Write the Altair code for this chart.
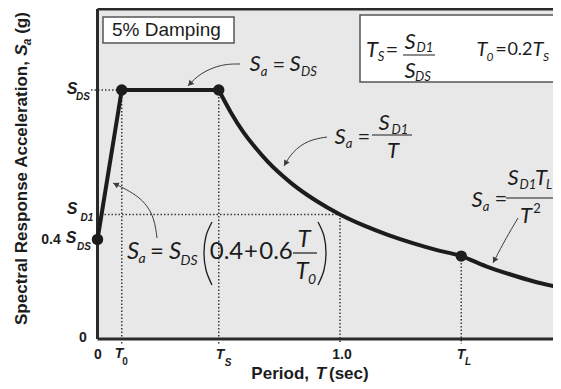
import math
import altair as alt
import pandas as pd

# ---------------- values ----------------
SDS, SD1 = 1.0, 0.5          # spectral accelerations (relative units)
T0, TS, TL = 0.1, 0.5, 1.5   # characteristic periods (sec)
SA_TL = 0.333                # Sa at T = TL

# straight part of the spectrum (0 -> T0 -> TS)
period_flat = [0.0, 0.10, 0.50]
sa_flat = [0.40, 1.00, 1.00]
# descending part (TS -> end)
period_fall = [0.50, 0.55, 0.60, 0.65, 0.70, 0.80, 0.90, 1.00, 1.10,
               1.20, 1.30, 1.40, 1.50, 1.60, 1.70, 1.80, 1.90]
sa_fall = [1.00, 0.910, 0.833, 0.770, 0.714, 0.625, 0.556, 0.500, 0.455,
           0.417, 0.385, 0.357, 0.333, 0.293, 0.260, 0.231, 0.208]

key_t = [0.0, T0, TS, TL]
key_sa = [0.4 * SDS, SDS, SDS, SA_TL]

# ---------------- layout ----------------
W, H = 455.5, 330
XMAX, YMAX = 1.8784, 1.3253
PX0, PXU = 97.5, 242.5      # page x of T=0, pixels per second
PY0, PYU = 339.0, 249.0     # page y of Sa=0, pixels per unit


def tx(px):
    return (px - PX0) / PXU


def ty(py):
    return (PY0 - py) / PYU


INK = "#1c1c1c"
BG = "#e8e8e8"
MATH = "Lato"
SANS = "Liberation Sans"

xs = alt.Scale(domain=[0, XMAX], nice=False, zero=False)
ys = alt.Scale(domain=[0, YMAX], nice=False, zero=False)


def ex(field):
    return alt.X(field, type="quantitative", scale=xs, axis=None)


def ey(field):
    return alt.Y(field, type="quantitative", scale=ys, axis=None)


def label(items, size, style="normal", weight="normal", font=MATH,
          align="center", angle=0):
    df = pd.DataFrame({"x": [tx(a) for a, _, _ in items],
                       "y": [ty(b) for _, b, _ in items],
                       "t": [str(c) for _, _, c in items]})
    mk = dict(font=font, fontSize=size, fontStyle=style, fontWeight=weight,
              align=align, baseline="middle", color=INK)
    if angle:
        mk["angle"] = angle
    return alt.Chart(df).mark_text(**mk).encode(x=ex("x"), y=ey("y"), text="t:N")


def paths(curves, width=1.0, color="#333333", interp="basis"):
    rows = []
    for g, pts in enumerate(curves):
        for i, (a, b) in enumerate(pts):
            rows.append({"x": tx(a), "y": ty(b), "i": i, "g": g})
    return alt.Chart(pd.DataFrame(rows)).mark_line(
        strokeWidth=width, color=color, interpolate=interp
    ).encode(x=ex("x"), y=ey("y"), order="i:Q", detail="g:N")


def bars(items, width=1.2):
    df = pd.DataFrame({"x": [tx(a) for a, _, _ in items],
                       "x2": [tx(b) for _, b, _ in items],
                       "y": [ty(c) for _, _, c in items]})
    return alt.Chart(df).mark_rule(color=INK, strokeWidth=width).encode(
        x=ex("x"), x2="x2", y=ey("y"))


def boxes(items, fill, stroke=None, sw=1.5):
    df = pd.DataFrame({"x": [tx(a) for a, _, _, _ in items],
                       "x2": [tx(b) for _, b, _, _ in items],
                       "y": [ty(c) for _, _, c, _ in items],
                       "y2": [ty(d) for _, _, _, d in items]})
    kw = dict(fill=fill)
    if stroke:
        kw.update(stroke=stroke, strokeWidth=sw)
    return alt.Chart(df).mark_rect(**kw).encode(x=ex("x"), x2="x2", y=ey("y"), y2="y2")


# ---------------- plot frame & guides ----------------
frame_df = pd.DataFrame({"x": [0.0, 0.0, 0.0], "x2": [0.0, XMAX + 0.05, XMAX + 0.05],
                         "y": [0.0, YMAX, 0.0], "y2": [YMAX, YMAX, 0.0]})
frame = alt.Chart(frame_df).mark_rule(color="#2a2a2a", strokeWidth=3).encode(
    x=ex("x"), x2="x2", y=ey("y"), y2="y2")

below = ty(344)
guide_df = pd.DataFrame({
    "x": [tx(91), 0.0, T0, TS, 1.0, TL],
    "x2": [T0, 1.0, T0, TS, 1.0, TL],
    "y": [SDS, SD1, SDS, SDS, SD1, SA_TL],
    "y2": [SDS, SD1, below, below, below, below]})
guides = alt.Chart(guide_df).mark_rule(color="#3a3a3a", strokeWidth=1.5,
                                       strokeDash=[1.5, 2]).encode(
    x=ex("x"), x2="x2", y=ey("y"), y2="y2")

curve_flat = alt.Chart(pd.DataFrame({"T": period_flat, "Sa": sa_flat})).mark_line(
    color=INK, strokeWidth=4, strokeJoin="round").encode(x=ex("T"), y=ey("Sa"))
curve_fall = alt.Chart(pd.DataFrame({"T": period_fall, "Sa": sa_fall})).mark_line(
    color=INK, strokeWidth=4, interpolate="monotone").encode(x=ex("T"), y=ey("Sa"))

dots = alt.Chart(pd.DataFrame({"T": key_t, "Sa": key_sa})).mark_point(
    filled=True, color=INK, size=130, opacity=1).encode(x=ex("T"), y=ey("Sa"))

# formula backgrounds / boxes
fbg = boxes([(200, 330, 219, 288)], BG)
damp_box = boxes([(103, 234, 17, 43)], "white", "#555555")
ts_box = boxes([(360, 575, 15, 82)], "white", "#555555")

# ---------------- arrows ----------------
arrow_pts = [
    [(240, 64), (222, 64), (200, 73), (188, 86)],
    [(327, 137), (308, 140), (292, 152), (284, 166)],
    [(157, 238), (154, 215), (140, 196), (113, 183)],
    [(518, 218), (505, 240), (493, 263)],
]
arrows = paths(arrow_pts, width=1.0, color="#3a3a3a")
heads = []
for pts in arrow_pts:
    (ax, ay), (bx, by) = pts[-2], pts[-1]
    L = math.hypot(bx - ax, by - ay)
    ux, uy = (bx - ax) / L, (by - ay) / L
    ang = math.degrees(math.atan2(ux, -uy)) % 360
    heads.append({"x": tx(bx - 3 * ux), "y": ty(by - 3 * uy), "a": ang})
arrowheads = alt.Chart(pd.DataFrame(heads)).mark_point(
    shape="triangle-up", filled=True, color="#3a3a3a", size=40, opacity=1).encode(
    x=ex("x"), y=ey("y"), angle=alt.Angle("a:Q", scale=None))

parens = paths([[(212, 222), (206, 236), (204, 253), (206, 270), (212, 285)],
                [(318, 222), (324, 236), (326, 253), (324, 270), (318, 285)]],
               width=1.3, color=INK, interp="cardinal")

# ---------------- texts ----------------
layers_text = [
    # damping box
    label([(112, 30, "5% Damping")], 19, font=SANS, align="left"),
    # formula 1  Sa = SDS
    label([(255, 64, "S"), (295, 64, "S")], 22, style="italic"),
    label([(264, 72, "a"), (309, 72, "DS")], 13, style="italic"),
    label([(279, 65, "=")], 22),
    # formula 2  Sa = SD1 / T
    label([(340, 137, "S"), (384, 123, "S"), (393, 151, "T")], 22, style="italic"),
    label([(349, 144, "a"), (400, 130, "D1")], 13, style="italic"),
    label([(364, 137, "=")], 22),
    # formula 3
    label([(133, 252, "S"), (175, 252, "S"), (304, 240, "T"), (302, 272, "T")], 24, style="italic"),
    label([(142, 259, "a"), (189, 261, "DS"), (312, 280, "0")], 14, style="italic"),
    label([(157, 252, "="), (226.5, 252, "0.4"), (251, 252, "+"), (276, 252, "0.6")], 24),
    # formula 4
    label([(477, 200, "S"), (513, 178, "S"), (541, 178, "T"), (526, 216, "T")], 22, style="italic"),
    label([(486, 207, "a"), (528, 185, "D1"), (549, 185, "L")], 13, style="italic"),
    label([(537, 209, "2")], 13),
    label([(501, 199, "=")], 22),
    # box formula
    label([(372, 50, "T"), (410, 42, "S"), (410, 71, "S")], 22, style="italic"),
    label([(482, 50, "T"), (538, 50, "T")], 20, style="italic"),
    label([(381, 57, "S"), (425, 48, "D1"), (423, 77, "DS")], 13, style="italic"),
    label([(490, 57, "0"), (546, 57, "S")], 12, style="italic"),
    label([(392, 50, "=")], 22),
    label([(501, 50, "=")], 20),
    label([(520, 50, "0.2")], 18),
    # x tick labels
    label([(98, 355, "0"), (342, 355, "1.0")], 14, weight="bold", font=SANS),
    label([(119, 354, "T"), (220, 355, "T"), (461, 355, "T")], 14, style="italic", weight="bold", font=SANS),
    label([(125, 362, "0")], 10, weight="bold", font=SANS),
    label([(228, 363, "S"), (468, 362, "L")], 10, style="italic", weight="bold", font=SANS),
    # y tick labels
    label([(83, 338, "0"), (51, 240, "0.4")], 14, weight="bold", font=SANS),
    label([(71, 238, "S"), (72, 209, "S"), (72, 89, "S")], 16, style="italic", weight="bold", font=SANS),
    label([(84, 247, "DS"), (87, 218, "D1"), (83, 97, "DS")], 10, style="italic", weight="bold", font=SANS),
    # x title
    label([(309, 374, "Period,")], 17, weight="bold", font=SANS, align="right"),
    label([(321, 374, "T")], 17, style="italic", weight="bold", font=SANS),
    label([(329, 374, "(sec)")], 17, weight="bold", font=SANS, align="left"),
    # y title (rotated)
    label([(22, 325, "Spectral Response Acceleration,")], 17, weight="bold", font=SANS,
          align="left", angle=270),
    label([(22, 50, "S")], 17, style="italic", weight="bold", font=SANS, angle=270),
    label([(27, 42, "a")], 12, style="italic", weight="bold", font=SANS, angle=270),
    label([(22, 23, "(g)")], 17, weight="bold", font=SANS, angle=270),
]

frac = bars([(372, 412, 135), (293, 317, 253), (506, 570, 198), (403, 435, 55)])

chart = alt.layer(
    fbg, guides, frame, curve_flat, curve_fall, dots, damp_box, ts_box, arrows,
    arrowheads, parens, frac, *layers_text
).properties(
    width=W, height=H,
    autosize=alt.AutoSizeParams(type="none"),
    padding={"left": 89.5, "top": 1, "right": 0, "bottom": 43},
).configure_view(stroke=None, fill=BG)

chart.save("out.html", embed_options={"renderer": "svg", "actions": False})
